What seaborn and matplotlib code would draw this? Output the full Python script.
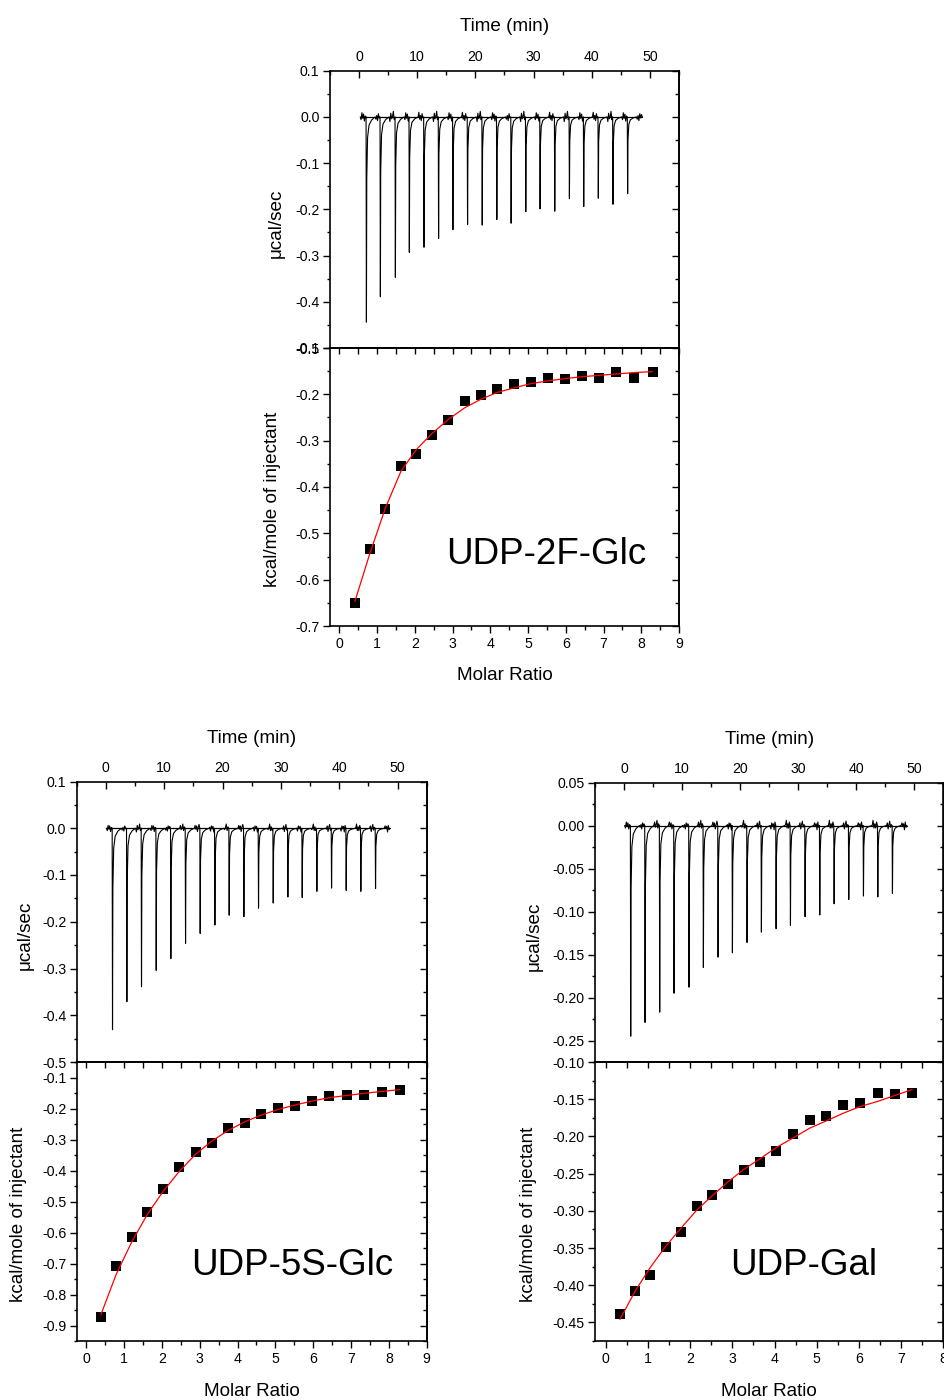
import numpy as np
import pandas as pd
import matplotlib
matplotlib.use("Agg")
import matplotlib.pyplot as plt
import seaborn as sns
from matplotlib.ticker import MultipleLocator, FormatStrFormatter

# ---------------- data ----------------
# UDP-2F-Glc
glc2f_inj_time = [1.26, 3.66, 6.24, 8.64, 11.16, 13.67, 16.13, 18.65, 21.17, 23.68,
                  26.14, 28.66, 31.12, 33.64, 36.16, 38.62, 41.13, 43.65, 46.17]
glc2f_peak = [-0.444, -0.389, -0.347, -0.293, -0.282, -0.263, -0.244, -0.233, -0.234, -0.222,
              -0.230, -0.205, -0.199, -0.204, -0.177, -0.194, -0.176, -0.189, -0.166]
glc2f_ratio = [0.41, 0.80, 1.22, 1.63, 2.04, 2.46, 2.89, 3.32, 3.74, 4.18,
               4.63, 5.07, 5.53, 5.98, 6.43, 6.88, 7.34, 7.82, 8.30]
glc2f_heat = [-0.650, -0.534, -0.447, -0.355, -0.328, -0.288, -0.256, -0.214, -0.201, -0.189,
              -0.178, -0.173, -0.165, -0.166, -0.161, -0.164, -0.152, -0.164, -0.151]
glc2f_fit = [-0.647, -0.545, -0.445, -0.366, -0.319, -0.284, -0.254, -0.229, -0.211, -0.196,
             -0.186, -0.177, -0.171, -0.166, -0.162, -0.159, -0.156, -0.153, -0.151]

# UDP-5S-Glc
glc5s_inj_time = [1.14, 3.60, 6.11, 8.63, 11.14, 13.66, 16.17, 18.69, 21.14, 23.66,
                  26.17, 28.69, 31.20, 33.66, 36.17, 38.69, 41.20, 43.71, 46.23]
glc5s_peak = [-0.431, -0.371, -0.339, -0.304, -0.279, -0.246, -0.225, -0.207, -0.186, -0.189,
              -0.171, -0.160, -0.147, -0.148, -0.135, -0.128, -0.133, -0.135, -0.129]
glc5s_ratio = [0.39, 0.79, 1.21, 1.62, 2.03, 2.46, 2.89, 3.32, 3.75, 4.19,
               4.63, 5.08, 5.51, 5.97, 6.43, 6.89, 7.35, 7.82, 8.29]
glc5s_heat = [-0.871, -0.709, -0.614, -0.534, -0.460, -0.388, -0.341, -0.310, -0.263, -0.248,
              -0.217, -0.199, -0.193, -0.175, -0.161, -0.158, -0.157, -0.147, -0.139]
glc5s_fit = [-0.865, -0.736, -0.629, -0.541, -0.468, -0.403, -0.348, -0.305, -0.271, -0.243,
             -0.221, -0.203, -0.189, -0.176, -0.165, -0.158, -0.151, -0.145, -0.139]

# UDP-Gal
gal_inj_time = [1.15, 3.62, 6.14, 8.61, 11.19, 13.66, 16.19, 18.66, 21.18, 23.65,
                26.18, 28.65, 31.17, 33.70, 36.17, 38.69, 41.22, 43.69, 46.21]
gal_peak = [-0.245, -0.229, -0.217, -0.195, -0.188, -0.165, -0.153, -0.148, -0.136, -0.124,
            -0.120, -0.116, -0.106, -0.104, -0.091, -0.086, -0.082, -0.083, -0.079]
gal_ratio = [0.34, 0.70, 1.06, 1.42, 1.79, 2.16, 2.52, 2.90, 3.28, 3.66,
             4.04, 4.44, 4.83, 5.23, 5.62, 6.02, 6.44, 6.85, 7.26]
gal_heat = [-0.439, -0.408, -0.386, -0.349, -0.328, -0.294, -0.279, -0.264, -0.245, -0.235,
            -0.220, -0.197, -0.178, -0.172, -0.158, -0.155, -0.142, -0.143, -0.141]
gal_fit = [-0.446, -0.408, -0.376, -0.348, -0.323, -0.299, -0.280, -0.261, -0.244, -0.230,
           -0.215, -0.202, -0.189, -0.179, -0.169, -0.160, -0.153, -0.145, -0.137]

# shape of one injection peak (minutes after peak, fraction of peak depth)
spike_dt = [-0.06, 0.0, 0.06, 0.2, 0.45, 0.9, 1.5]
spike_frac = [0.0, 1.0, 0.3, 0.1, 0.04, 0.015, 0.0]

# baseline jitter of the raw traces between injections (ucal/sec, read roughly)
glc2f_jitter = [0.004, -0.006, 0.009, -0.003, 0.006, -0.009, 0.002, 0.010, -0.005, 0.003,
                -0.008, 0.007, -0.002, 0.005, -0.010, 0.008, -0.004, 0.001, 0.012, -0.006]
glc5s_jitter = [0.003, -0.005, 0.006, -0.002, 0.005, -0.007, 0.002, 0.008, -0.004, 0.002,
                -0.006, 0.005, -0.001, 0.004, -0.008, 0.006, -0.003, 0.001, 0.009, -0.005]
gal_jitter = [0.002, -0.003, 0.004, -0.001, 0.003, -0.004, 0.001, 0.005, -0.002, 0.001,
              -0.004, 0.003, -0.001, 0.002, -0.005, 0.004, -0.002, 0.001, 0.006, -0.003]

trace_start = [0.2, 0.1, 0.1]
trace_end = [48.7, 48.7, 48.7]

labels = ["UDP-2F-Glc", "UDP-5S-Glc", "UDP-Gal"]

# ---------------- style ----------------
sns.set_theme(style="ticks")
plt.rcParams["font.family"] = ["Liberation Sans", "DejaVu Sans"]
plt.rcParams["axes.unicode_minus"] = False
plt.rcParams["axes.linewidth"] = 1.2
plt.rcParams["text.color"] = "black"
plt.rcParams["axes.labelcolor"] = "black"
plt.rcParams["xtick.color"] = "black"
plt.rcParams["ytick.color"] = "black"
plt.rcParams["axes.edgecolor"] = "black"
for k in ("xtick.major.width", "ytick.major.width", "xtick.minor.width", "ytick.minor.width"):
    plt.rcParams[k] = 1.0

TICK_FS = 10.2
LABEL_FS = 13.6

fig = plt.figure(figsize=(9.45, 14), dpi=100)
W, H = 945.0, 1400.0


def rect(left, right, top, bottom):
    return [left / W, 1 - bottom / H, (right - left) / W, (bottom - top) / H]


def build_trace(times, peaks, jitter, t0, t1):
    t = []
    y = []
    k = 0
    starts = [t0] + [ti + spike_dt[-1] for ti in times]
    ends = [ti + spike_dt[0] for ti in times] + [t1]
    for i in range(len(starts)):
        a, b = starts[i], ends[i]
        n = max(int((b - a) / 0.13), 1)
        for j in range(n):
            t.append(a + (b - a) * j / n)
            y.append(0.0 if j == 0 else jitter[k % len(jitter)])
            k += 1
        if i < len(times):
            for d, f in zip(spike_dt, spike_frac):
                t.append(times[i] + d)
                y.append(peaks[i] * f)
    t.append(t1)
    y.append(0.0)
    return t, y


def draw_panel(box, times, peaks, jitter, t0, t1, ratio, heat, fit, cfg):
    left, right, top, mid, bottom = box
    ax_u = fig.add_axes(rect(left, right, top, mid))
    ax_l = fig.add_axes(rect(left, right, mid, bottom))

    # ---- thermogram ----
    t, y = build_trace(times, peaks, jitter, t0, t1)
    tr = pd.DataFrame({"t": t, "y": y})
    sns.lineplot(data=tr, x="t", y="y", sort=False, estimator=None,
                 color="black", lw=0.8, ax=ax_u)
    base = pd.DataFrame({"t": [t0, t1], "y": [0.0, 0.0]})
    sns.lineplot(data=base, x="t", y="y", sort=False, estimator=None,
                 color="black", lw=0.9, ax=ax_u)
    ax_u.set_xlim(-5, 55)
    ax_u.set_ylim(*cfg["ylim_u"])
    ax_u.xaxis.tick_top()
    ax_u.xaxis.set_label_position("top")
    ax_u.xaxis.set_major_locator(MultipleLocator(10))
    ax_u.xaxis.set_minor_locator(MultipleLocator(5))
    ax_u.xaxis.set_major_formatter(FormatStrFormatter("%d"))
    ax_u.tick_params(axis="x", which="both", direction="in", top=True, bottom=False,
                     labeltop=True, labelbottom=False, labelsize=TICK_FS, pad=5)
    ax_u.tick_params(axis="x", which="major", length=5)
    ax_u.tick_params(axis="x", which="minor", length=3)
    ax_u.yaxis.set_major_locator(MultipleLocator(cfg["ymaj_u"]))
    ax_u.yaxis.set_minor_locator(MultipleLocator(cfg["ymaj_u"] / 2))
    ax_u.yaxis.set_major_formatter(FormatStrFormatter(cfg["yfmt_u"]))
    ax_u.tick_params(axis="y", which="both", direction="out", left=True, right=False,
                     labelsize=TICK_FS, pad=2.5)
    ax_u.tick_params(axis="y", which="major", length=5)
    ax_u.tick_params(axis="y", which="minor", length=2.5)
    sec = ax_u.secondary_yaxis("right")
    sec.yaxis.set_major_locator(MultipleLocator(cfg["ymaj_u"]))
    sec.yaxis.set_minor_locator(MultipleLocator(cfg["ymaj_u"] / 2))
    sec.tick_params(which="both", direction="in", labelright=False)
    sec.tick_params(which="major", length=5)
    sec.tick_params(which="minor", length=3)
    ax_u.set_xlabel("Time (min)", fontsize=LABEL_FS)
    ax_u.set_ylabel("\u03bccal/sec", fontsize=LABEL_FS)
    ax_u.xaxis.set_label_coords(0.5, 1 + cfg["tlab_px"] / (mid - top))
    ax_u.yaxis.set_label_coords(cfg["ylab_x_u"], 0.45)

    # ---- integrated heats ----
    sns.scatterplot(x=ratio, y=heat, marker="s", color="black", s=48,
                    edgecolor="black", linewidth=0, ax=ax_l, zorder=3)
    sns.lineplot(x=ratio, y=fit, sort=False, estimator=None, color="red",
                 lw=0.9, ax=ax_l, zorder=4)
    ax_l.set_xlim(-0.25, cfg["xmax_l"])
    ax_l.set_ylim(*cfg["ylim_l"])
    ax_l.xaxis.set_major_locator(MultipleLocator(1))
    ax_l.xaxis.set_minor_locator(MultipleLocator(0.5))
    ax_l.xaxis.set_major_formatter(FormatStrFormatter("%d"))
    ax_l.tick_params(axis="x", which="both", direction="out", bottom=True, top=False,
                     labelsize=TICK_FS, pad=3)
    ax_l.tick_params(axis="x", which="major", length=5)
    ax_l.tick_params(axis="x", which="minor", length=3)
    secx = ax_l.secondary_xaxis("top")
    secx.xaxis.set_major_locator(MultipleLocator(1))
    secx.xaxis.set_minor_locator(MultipleLocator(0.5))
    secx.tick_params(which="both", direction="in", labeltop=False, length=4)
    ax_l.yaxis.set_major_locator(MultipleLocator(cfg["ymaj_l"]))
    ax_l.yaxis.set_minor_locator(MultipleLocator(cfg["ymaj_l"] / 2))
    ax_l.yaxis.set_major_formatter(FormatStrFormatter(cfg["yfmt_l"]))
    ax_l.tick_params(axis="y", which="both", direction="out", left=True, right=False,
                     labelsize=TICK_FS, pad=2.5)
    ax_l.tick_params(axis="y", which="major", length=5)
    ax_l.tick_params(axis="y", which="minor", length=2.5)
    secy = ax_l.secondary_yaxis("right")
    secy.yaxis.set_major_locator(MultipleLocator(cfg["ymaj_l"]))
    secy.yaxis.set_minor_locator(MultipleLocator(cfg["ymaj_l"] / 2))
    secy.tick_params(which="both", direction="in", labelright=False)
    secy.tick_params(which="major", length=5)
    secy.tick_params(which="minor", length=3)
    ax_l.set_xlabel("Molar Ratio", fontsize=LABEL_FS)
    ax_l.set_ylabel("kcal/mole of injectant", fontsize=LABEL_FS)
    ax_l.xaxis.set_label_coords(0.5, -cfg["mlab_px"] / (bottom - mid))
    ax_l.yaxis.set_label_coords(cfg["ylab_x_l"], 0.455)
    ax_l.text(cfg["txt_x"], cfg["txt_y"], cfg["label"], transform=ax_l.transAxes,
              fontsize=26.5, ha="left", va="baseline", color="black")
    for a in (ax_u, ax_l):
        for s in a.spines.values():
            s.set_visible(True)
            s.set_color("black")


cfg_top = dict(ylim_u=(-0.5, 0.1), ymaj_u=0.1, yfmt_u="%.1f", ylab_x_u=-0.129,
               ylim_l=(-0.7, -0.1), ymaj_l=0.1, yfmt_l="%.1f", ylab_x_l=-0.141,
               xmax_l=9, txt_x=0.332, txt_y=0.223, label=labels[0],
               tlab_px=40.0, mlab_px=41.0)
cfg_left = dict(ylim_u=(-0.5, 0.1), ymaj_u=0.1, yfmt_u="%.1f", ylab_x_u=-0.124,
                ylim_l=(-0.95, -0.05), ymaj_l=0.1, yfmt_l="%.1f", ylab_x_l=-0.141,
                xmax_l=9, txt_x=0.327, txt_y=0.237, label=labels[1],
                tlab_px=38.5, mlab_px=42.0)
cfg_right = dict(ylim_u=(-0.275, 0.05), ymaj_u=0.05, yfmt_u="%.2f", ylab_x_u=-0.151,
                 ylim_l=(-0.475, -0.10), ymaj_l=0.05, yfmt_l="%.2f", ylab_x_l=-0.166,
                 xmax_l=8, txt_x=0.387, txt_y=0.237, label=labels[2],
                 tlab_px=38.5, mlab_px=42.0)

draw_panel((330, 679, 70.7, 348, 626), glc2f_inj_time, glc2f_peak, glc2f_jitter,
           trace_start[0], trace_end[0], glc2f_ratio, glc2f_heat, glc2f_fit, cfg_top)
draw_panel((76.7, 426.7, 781.5, 1062, 1341), glc5s_inj_time, glc5s_peak, glc5s_jitter,
           trace_start[1], trace_end[1], glc5s_ratio, glc5s_heat, glc5s_fit, cfg_left)
draw_panel((595, 943.5, 782.5, 1062, 1341), gal_inj_time, gal_peak, gal_jitter,
           trace_start[2], trace_end[2], gal_ratio, gal_heat, gal_fit, cfg_right)

fig.savefig("out.png", dpi=100, facecolor="white")
